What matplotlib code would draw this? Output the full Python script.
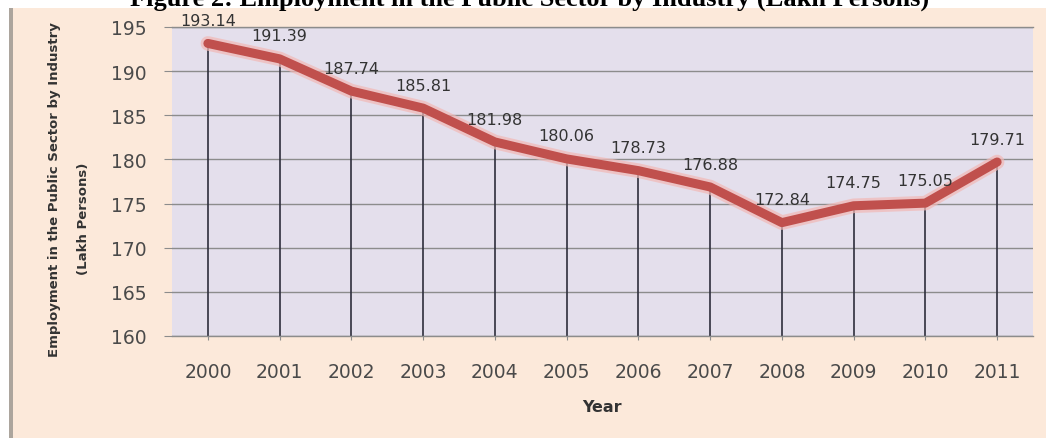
import matplotlib.pyplot as plt
from matplotlib.patches import Rectangle

# data
years = ["2000", "2001", "2002", "2003", "2004", "2005",
         "2006", "2007", "2008", "2009", "2010", "2011"]
employment = [193.14, 191.39, 187.74, 185.81, 181.98, 180.06,
              178.73, 176.88, 172.84, 174.75, 175.05, 179.71]
y_ticks = [160, 165, 170, 175, 180, 185, 190, 195]

W, H = 1046, 439
fig = plt.figure(figsize=(W / 100, H / 100), dpi=100)
fig.patch.set_facecolor("white")

# peach chart panel with grey left edge
fig.patches.append(Rectangle((12 / W, 0), 1 - 12 / W, 1 - 9 / H, transform=fig.transFigure,
                             facecolor="#FCE9DA", edgecolor="none", zorder=-2))
fig.patches.append(Rectangle((9 / W, 0), 3.5 / W, 1 - 9 / H, transform=fig.transFigure,
                             facecolor="#ACA59D", edgecolor="none", zorder=-2))

# title, mostly cut off at the top of the picture (as in the reference)
fig.text(530 / W, 1 - 5.5 / H, "Figure 2: Employment in the Public Sector by Industry (Lakh Persons)",
         ha="center", va="baseline", fontsize=19, fontweight="bold",
         family="Liberation Serif", color="black", zorder=-1)

ax = fig.add_axes([172 / W, 1 - 337 / H, (1033 - 172) / W, (337 - 28) / H])
ax.set_facecolor("#E4DFEC")
x = list(range(len(years)))

ax.set_xlim(-0.5, len(years) - 0.5)
ax.set_ylim(160, 195)
ax.set_yticks(y_ticks)
ax.set_xticks(x)
ax.set_xticklabels(years)
ax.grid(axis="y", color="#8C8C8C", linewidth=1)
ax.set_axisbelow(True)
for side in ["left", "right"]:
    ax.spines[side].set_visible(False)
for side in ["top", "bottom"]:
    ax.spines[side].set_color("#8C8C8C")
    ax.spines[side].set_linewidth(1)

ax.tick_params(axis="y", length=6, color="#8C8C8C", labelsize=13.5,
               labelcolor="#4A4A4A", pad=12)
ax.tick_params(axis="x", length=3, color="#8C8C8C", labelsize=13.5,
               labelcolor="#4A4A4A", pad=16)

# drop lines
ax.vlines(x, 160, employment, color="#2E2E3C", linewidth=1.2, zorder=2)

# glow + thick red line
ax.plot(x, employment, color="#F2B8B5", linewidth=10.5, alpha=0.7,
        solid_capstyle="round", zorder=3)
ax.plot(x, employment, color="#C0504D", linewidth=6.5,
        solid_capstyle="round", solid_joinstyle="round", zorder=4)

for xi, v in zip(x, employment):
    ax.annotate(f"{v:.2f}", (xi, v), xytext=(0, 16.5), textcoords="offset points",
                ha="center", va="center", fontsize=11.5, color="#333333",
                annotation_clip=False, zorder=5)

ax.set_xlabel("Year", fontsize=11.5, fontweight="bold", color="#333333", labelpad=13)

fig.text(55 / W, 1 - 190 / H, "Employment in the Public Sector by Industry",
         rotation=90, ha="center", va="center", fontsize=9.5, fontweight="bold",
         color="#333333")
fig.text(84 / W, 1 - 219 / H, "(Lakh Persons)",
         rotation=90, ha="center", va="center", fontsize=9.5, fontweight="bold",
         color="#333333")

fig.savefig("out.png", dpi=100)
